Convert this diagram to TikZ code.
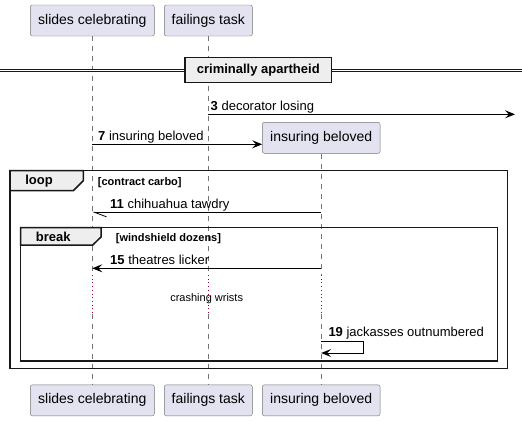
\documentclass[tikz,border=0pt]{standalone}
\usepackage{fontspec}
\setmainfont{Liberation Sans}
\usetikzlibrary{arrows.meta,positioning}

\definecolor{partfill}{HTML}{E2E2F0}
\definecolor{partline}{HTML}{181818}
\definecolor{tabfill}{HTML}{EEEEEE}
\definecolor{delaydot}{HTML}{99003A}

\begin{document}
\begin{tikzpicture}[x=1pt, y=-1pt, font = \fontsize{13}{15}\selectfont,
    part/.style = {draw = partline!60, fill = partfill, rounded corners = 2pt,
        font = \fontsize{14}{16}\selectfont, minimum height = 31pt, inner sep = 0pt},
    life/.style = {draw = partline!60, line width = 0.5pt, dash pattern = on 5pt off 5pt},
    delay/.style = {draw = delaydot, line width = 0.9pt, dash pattern = on 0.9pt off 2.8pt},
    msg/.style = {line width = 0.8pt, -{Stealth[length = 10pt, width = 8pt, inset = 4pt]}},
    half/.style = {line width = 0.8pt, -{Straight Barb[harpoon, length = 12pt, width = 9pt, line width = 0.8pt]}},
    frame/.style = {draw = partline, line width = 1.5pt},
    tab/.style = {draw = partline, fill = tabfill, line width = 1.5pt},
    kw/.style = {font = \bfseries\fontsize{13}{15}\selectfont, inner sep = 0pt},
    lbl/.style = {anchor = base west, inner sep = 0pt},
    grd/.style = {font = \bfseries\fontsize{11}{13}\selectfont, anchor = base west, inner sep = 0pt}]

    % bounding box
    \useasboundingbox (0,0) rectangle (522,421);

    % participants
    \node[part, minimum width = 124pt] (sc) at (92.3,20.5) {slides celebrating};
    \node[part, minimum width = 88pt] (ft) at (208.3,20.5) {failings task};
    \node[part, minimum width = 117.7pt] (ib) at (321.2,137.8) {insuring beloved};
    \node[part, minimum width = 124pt] (scb) at (92.3,400.3) {slides celebrating};
    \node[part, minimum width = 88pt] (ftb) at (208.3,400.3) {failings task};
    \node[part, minimum width = 117.7pt] (ibb) at (321.2,400.3) {insuring beloved};

    % lifelines
    \draw[life] (sc.south) -- (sc |- 0,275);
    \draw[delay] (sc |- 0,275) -- (sc |- 0,314);
    \draw[life] (sc |- 0,314) -- (scb.north);
    \draw[life] (ft.south) -- (ft |- 0,275);
    \draw[delay] (ft |- 0,275) -- (ft |- 0,314);
    \draw[life] (ft |- 0,314) -- (ftb.north);
    \draw[life] (ib.south) -- (ib |- 0,275);
    \draw[delay] (ib |- 0,275) -- (ib |- 0,314);
    \draw[life] (ib |- 0,314) -- (ibb.north);

    % divider
    \draw[partline, line width = 0.9pt, double = white, double distance = 1.4pt] (0,70.4) -- (522,70.4);
    \node[draw = partline, fill = tabfill, line width = 1.5pt, minimum width = 146.7pt, minimum height = 25pt,
        inner sep = 0pt, font = \bfseries\fontsize{13}{15}\selectfont] (sep) at (258.3,69.8) {criminally apartheid};

    % messages
    \coordinate (edge) at (515,114.3);
    \draw[msg] (ft |- edge) -- (edge);
    \node[lbl] (m3) at (210.5,110) {\textbf{3} decorator losing};
    \draw[msg] (sc |- 0,144.3) -- (ib.west |- 0,144.3);
    \node[lbl] (m7) at (98,140) {\textbf{7} insuring beloved};

    % loop frame
    \draw[frame] (10,170.7) rectangle (507.3,368.3);
    \draw[tab] (10,170.7) -- (83.3,170.7) -- (83.3,180.7) -- (73.3,190.7) -- (10,190.7) -- cycle;
    \node[kw] (loop) at (39,181.2) {loop};
    \node[grd] (g1) at (97.7,185.3) {[contract carbo]};

    \draw[half] (ib |- 0,212.3) -- (sc |- 0,212.3);
    \node[lbl] (m11) at (110,208) {\textbf{11} chihuahua tawdry};

    % break frame
    \draw[frame] (20.7,227.7) rectangle (497.3,361);
    \draw[tab] (20.7,227.7) -- (101,227.7) -- (101,237) -- (92.7,245) -- (20.7,245) -- cycle;
    \node[kw] (brk) at (53.3,236.8) {break};
    \node[grd] (g2) at (115.7,241.5) {[windshield dozens]};

    \draw[msg] (ib |- 0,268.3) -- (sc |- 0,268.3);
    \node[lbl] (m15) at (110,264) {\textbf{15} theatres licker};

    \node[font = \fontsize{11}{13}\selectfont] (dl) at (206.7,298.3) {crashing wrists};

    \coordinate (s1) at (363.3,341);
    \coordinate (s2) at (363.3,353);
    \draw[msg] (ib |- s1) -- (s1) -- (s2) -- (ib |- s2);
    \node[lbl] (m19) at (328.3,336) {\textbf{19} jackasses outnumbered};
\end{tikzpicture}
\end{document}
